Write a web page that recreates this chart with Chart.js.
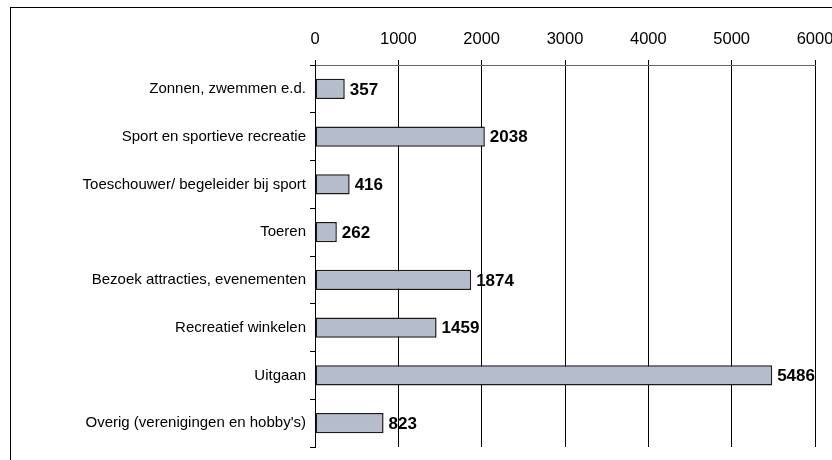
<!DOCTYPE html>
<html><head><meta charset="utf-8">
<script src="https://cdn.jsdelivr.net/npm/chart.js@4/dist/chart.umd.min.js"></script>
<style>
html,body{margin:0;padding:0;background:#fff;overflow:hidden;}
#wrap{position:absolute;left:0;top:0;width:832px;height:460px;}
#frame{position:absolute;left:10px;top:7px;width:840px;height:470px;border:1.5px solid #000;box-sizing:border-box;pointer-events:none;}
</style></head>
<body>
<div id="wrap"><canvas id="c" width="832" height="460"></canvas></div>
<div id="frame"></div>
<script>
const categories = [
  "Zonnen, zwemmen e.d.",
  "Sport en sportieve recreatie",
  "Toeschouwer/ begeleider bij sport",
  "Toeren",
  "Bezoek attracties, evenementen",
  "Recreatief winkelen",
  "Uitgaan",
  "Overig (verenigingen en hobby's)"
];
const values = [357, 2038, 416, 262, 1874, 1459, 5486, 823];
const axisMin = 0;
const axisMax = 6000;
const axisStep = 1000;

const valueLabels = {
  id: 'valueLabels',
  afterDatasetsDraw(chart) {
    const ctx = chart.ctx;
    const meta = chart.getDatasetMeta(0);
    ctx.save();
    ctx.font = 'bold 17px "Liberation Sans", Arial, sans-serif';
    ctx.fillStyle = '#000';
    ctx.textAlign = 'left';
    ctx.textBaseline = 'middle';
    meta.data.forEach((bar, i) => {
      ctx.fillText(String(values[i]), bar.x + 5, bar.y + 1);
    });
    ctx.restore();
  }
};

new Chart(document.getElementById('c'), {
  type: 'bar',
  data: {
    labels: categories,
    datasets: [{
      data: values,
      backgroundColor: '#b5bdcc',
      borderColor: '#1a1a1a',
      borderWidth: 1.5,
      borderSkipped: false,
      barPercentage: 0.42,
      categoryPercentage: 1.0
    }]
  },
  options: {
    indexAxis: 'y',
    responsive: false,
    animation: false,
    devicePixelRatio: 1,
    layout: { padding: { left: 0, right: 17, top: 0, bottom: 9 } },
    plugins: { legend: { display: false }, tooltip: { enabled: false } },
    scales: {
      x: {
        position: 'top',
        min: axisMin, max: axisMax,
        afterFit(s) { s.height = 65; s.paddingRight = 0; s.paddingLeft = 0; },
        ticks: { stepSize: axisStep, color: '#000', padding: 11, maxRotation: 0,
          callback: (v) => String(v),
          font: { family: '"Liberation Sans", Arial, sans-serif', size: 16.5 } },
        grid: { color: '#000', lineWidth: 1, tickLength: 5, drawTicks: true },
        border: { color: '#666', width: 1 }
      },
      y: {
        afterFit(s) { s.width = 315; },
        ticks: { color: '#000', padding: 4,
          font: { family: '"Liberation Sans", Arial, sans-serif', size: 15 } },
        grid: { offset: true, drawOnChartArea: false, color: '#000', tickLength: 5 },
        border: { color: '#000', width: 1 }
      }
    }
  },
  plugins: [valueLabels]
});
</script>
</body></html>
